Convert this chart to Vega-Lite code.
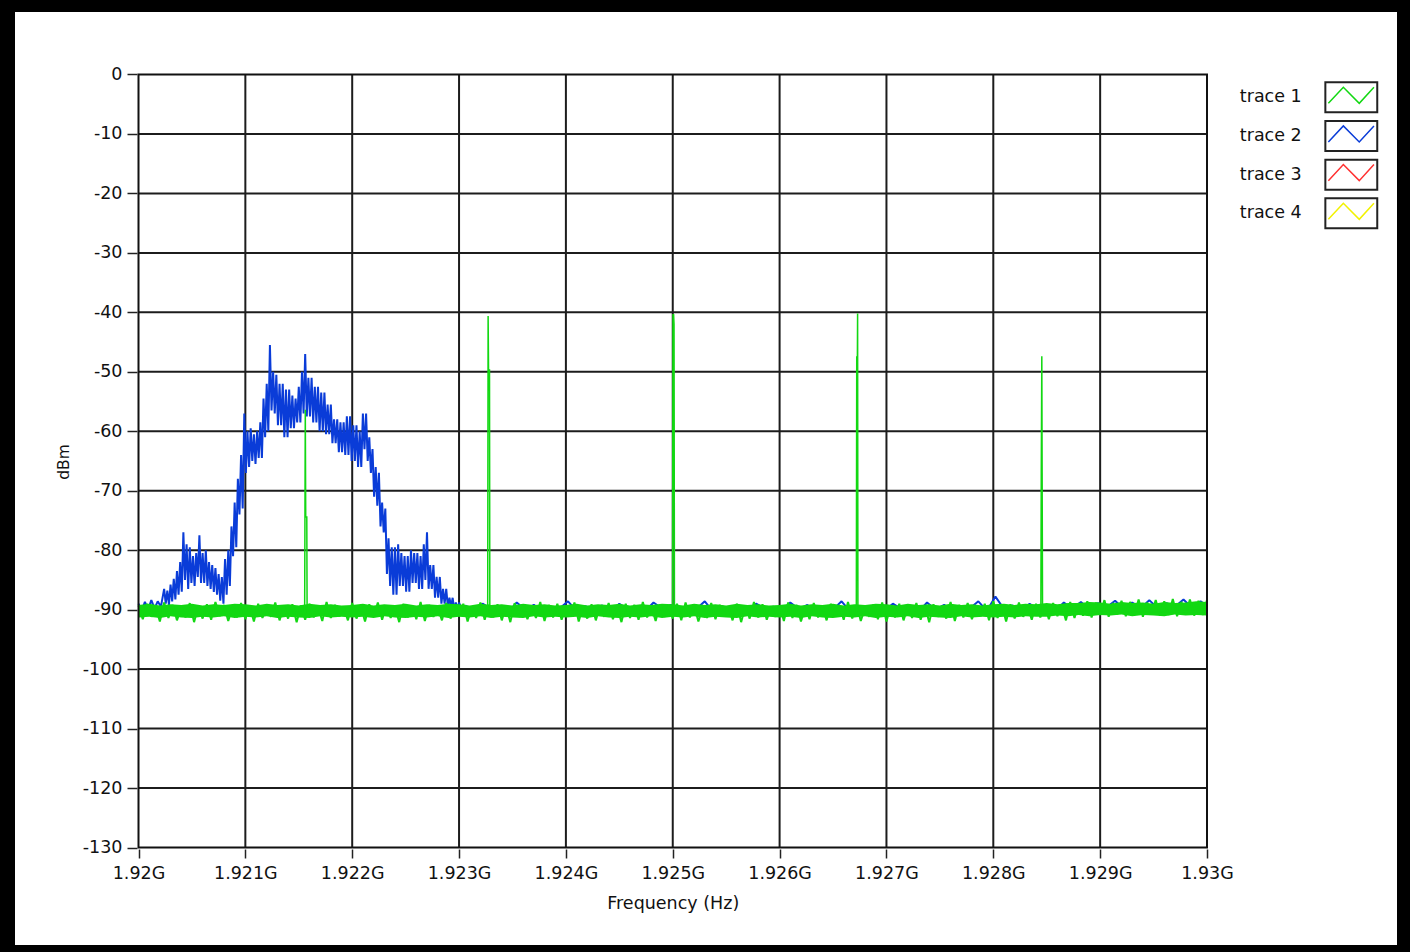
{
"$schema": "https://vega.github.io/schema/vega-lite/v6.json",
"width": 1384,
"height": 935,
"autosize": {"type": "none"},
"padding": {"left": 14, "top": 11, "right": 12, "bottom": 6},
"background": "#000000",
"config": {
  "view": {"fill": "#ffffff", "stroke": "#000000", "strokeWidth": 2},
  "font": "DejaVu Sans",
  "axis": {"labelFont": "DejaVu Sans", "titleFont": "DejaVu Sans", "labelColor": "#111111", "titleColor": "#111111", "titleFontWeight": "normal", "tickColor": "#222222", "tickWidth": 1.5, "domain": false, "grid": false, "labelFontSize": 17.5, "titleFontSize": 17.5},
  "legend": {"labelFont": "DejaVu Sans", "labelFontSize": 17.5, "labelColor": "#111111"}
},
"datasets": {
  "vgrid": [{"f":1921},{"f":1922},{"f":1923},{"f":1924},{"f":1925},{"f":1926},{"f":1927},{"f":1928},{"f":1929}],
  "hgrid": [{"v":-10},{"v":-20},{"v":-30},{"v":-40},{"v":-50},{"v":-60},{"v":-70},{"v":-80},{"v":-90},{"v":-100},{"v":-110},{"v":-120}],
  "gband": [
{"f":1920.0,"hi":-89.2,"lo":-91.3},{"f":1920.1,"hi":-89.0,"lo":-91.2},{"f":1920.2,"hi":-89.3,"lo":-91.4},{"f":1920.3,"hi":-89.1,"lo":-91.1},{"f":1920.4,"hi":-89.2,"lo":-91.3},{"f":1920.5,"hi":-89.0,"lo":-91.4},{"f":1920.6,"hi":-89.3,"lo":-91.2},{"f":1920.7,"hi":-89.1,"lo":-91.3},{"f":1920.8,"hi":-89.2,"lo":-91.1},{"f":1920.9,"hi":-89.0,"lo":-91.4},
{"f":1921.0,"hi":-89.1,"lo":-91.2},{"f":1921.1,"hi":-89.3,"lo":-91.3},{"f":1921.2,"hi":-89.0,"lo":-91.1},{"f":1921.3,"hi":-89.2,"lo":-91.4},{"f":1921.4,"hi":-89.1,"lo":-91.2},{"f":1921.5,"hi":-89.3,"lo":-91.3},{"f":1921.6,"hi":-89.0,"lo":-91.4},{"f":1921.7,"hi":-89.2,"lo":-91.1},{"f":1921.8,"hi":-89.1,"lo":-91.3},{"f":1921.9,"hi":-89.3,"lo":-91.2},
{"f":1922.0,"hi":-89.2,"lo":-91.3},{"f":1922.1,"hi":-89.0,"lo":-91.2},{"f":1922.2,"hi":-89.3,"lo":-91.4},{"f":1922.3,"hi":-89.1,"lo":-91.1},{"f":1922.4,"hi":-89.2,"lo":-91.3},{"f":1922.5,"hi":-89.0,"lo":-91.4},{"f":1922.6,"hi":-89.3,"lo":-91.2},{"f":1922.7,"hi":-89.1,"lo":-91.3},{"f":1922.8,"hi":-89.2,"lo":-91.1},{"f":1922.9,"hi":-89.0,"lo":-91.4},
{"f":1923.0,"hi":-89.1,"lo":-91.2},{"f":1923.1,"hi":-89.3,"lo":-91.3},{"f":1923.2,"hi":-89.0,"lo":-91.1},{"f":1923.3,"hi":-89.2,"lo":-91.4},{"f":1923.4,"hi":-89.1,"lo":-91.2},{"f":1923.5,"hi":-89.3,"lo":-91.3},{"f":1923.6,"hi":-89.0,"lo":-91.4},{"f":1923.7,"hi":-89.2,"lo":-91.1},{"f":1923.8,"hi":-89.1,"lo":-91.3},{"f":1923.9,"hi":-89.3,"lo":-91.2},
{"f":1924.0,"hi":-89.2,"lo":-91.3},{"f":1924.1,"hi":-89.0,"lo":-91.2},{"f":1924.2,"hi":-89.3,"lo":-91.4},{"f":1924.3,"hi":-89.1,"lo":-91.1},{"f":1924.4,"hi":-89.2,"lo":-91.3},{"f":1924.5,"hi":-89.0,"lo":-91.4},{"f":1924.6,"hi":-89.3,"lo":-91.2},{"f":1924.7,"hi":-89.1,"lo":-91.3},{"f":1924.8,"hi":-89.2,"lo":-91.1},{"f":1924.9,"hi":-89.0,"lo":-91.4},
{"f":1925.0,"hi":-89.1,"lo":-91.2},{"f":1925.1,"hi":-89.3,"lo":-91.3},{"f":1925.2,"hi":-89.0,"lo":-91.1},{"f":1925.3,"hi":-89.2,"lo":-91.4},{"f":1925.4,"hi":-89.1,"lo":-91.2},{"f":1925.5,"hi":-89.3,"lo":-91.3},{"f":1925.6,"hi":-89.0,"lo":-91.4},{"f":1925.7,"hi":-89.2,"lo":-91.1},{"f":1925.8,"hi":-89.1,"lo":-91.3},{"f":1925.9,"hi":-89.3,"lo":-91.2},
{"f":1926.0,"hi":-89.2,"lo":-91.3},{"f":1926.1,"hi":-89.0,"lo":-91.2},{"f":1926.2,"hi":-89.3,"lo":-91.4},{"f":1926.3,"hi":-89.1,"lo":-91.1},{"f":1926.4,"hi":-89.2,"lo":-91.3},{"f":1926.5,"hi":-89.0,"lo":-91.4},{"f":1926.6,"hi":-89.3,"lo":-91.2},{"f":1926.7,"hi":-89.1,"lo":-91.3},{"f":1926.8,"hi":-89.2,"lo":-91.1},{"f":1926.9,"hi":-89.0,"lo":-91.4},
{"f":1927.0,"hi":-89.1,"lo":-91.2},{"f":1927.1,"hi":-89.3,"lo":-91.3},{"f":1927.2,"hi":-89.0,"lo":-91.1},{"f":1927.3,"hi":-89.2,"lo":-91.4},{"f":1927.4,"hi":-89.1,"lo":-91.2},{"f":1927.5,"hi":-89.3,"lo":-91.3},{"f":1927.6,"hi":-89.0,"lo":-91.4},{"f":1927.7,"hi":-89.2,"lo":-91.1},{"f":1927.8,"hi":-89.1,"lo":-91.3},{"f":1927.9,"hi":-89.3,"lo":-91.2},
{"f":1928.0,"hi":-89.1,"lo":-91.3},{"f":1928.1,"hi":-89.0,"lo":-91.2},{"f":1928.2,"hi":-89.2,"lo":-91.3},{"f":1928.3,"hi":-89.0,"lo":-91.1},{"f":1928.4,"hi":-89.1,"lo":-91.2},{"f":1928.5,"hi":-88.9,"lo":-91.2},{"f":1928.6,"hi":-89.1,"lo":-91.0},{"f":1928.7,"hi":-88.9,"lo":-91.1},{"f":1928.8,"hi":-88.9,"lo":-90.9},{"f":1928.9,"hi":-88.7,"lo":-91.1},
{"f":1929.0,"hi":-88.8,"lo":-90.9},{"f":1929.1,"hi":-89.0,"lo":-91.0},{"f":1929.2,"hi":-88.7,"lo":-90.8},{"f":1929.3,"hi":-88.9,"lo":-91.1},{"f":1929.4,"hi":-88.8,"lo":-90.9},{"f":1929.5,"hi":-89.0,"lo":-91.0},{"f":1929.6,"hi":-88.7,"lo":-91.1},{"f":1929.7,"hi":-88.9,"lo":-90.8},{"f":1929.8,"hi":-88.8,"lo":-91.0},{"f":1929.9,"hi":-88.6,"lo":-90.9},
{"f":1930.0,"hi":-88.7,"lo":-91.0}
  ],
  "blue": [
{"f":1920.00,"v":-89.0},{"f":1920.03,"v":-90.2},{"f":1920.06,"v":-88.7},{"f":1920.09,"v":-90.0},{"f":1920.12,"v":-88.4},{"f":1920.15,"v":-89.8},{"f":1920.18,"v":-88.6},{"f":1920.21,"v":-89.5},
{"f":1920.240,"v":-86.5},{"f":1920.255,"v":-89.0},{"f":1920.270,"v":-86.8},{"f":1920.285,"v":-89.2},{"f":1920.300,"v":-85.8},{"f":1920.315,"v":-88.6},{"f":1920.330,"v":-84.8},{"f":1920.345,"v":-88.3},
{"f":1920.360,"v":-83.5},{"f":1920.375,"v":-87.5},{"f":1920.390,"v":-82.0},{"f":1920.405,"v":-87.0},{"f":1920.420,"v":-77.0},{"f":1920.435,"v":-85.0},{"f":1920.450,"v":-79.0},{"f":1920.465,"v":-86.5},
{"f":1920.480,"v":-79.5},{"f":1920.495,"v":-85.5},{"f":1920.510,"v":-81.0},{"f":1920.525,"v":-86.0},{"f":1920.540,"v":-80.5},{"f":1920.555,"v":-84.5},{"f":1920.570,"v":-77.5},{"f":1920.585,"v":-85.5},
{"f":1920.600,"v":-80.5},{"f":1920.615,"v":-85.5},{"f":1920.630,"v":-80.0},{"f":1920.645,"v":-86.0},{"f":1920.660,"v":-82.0},{"f":1920.675,"v":-86.5},{"f":1920.690,"v":-82.5},{"f":1920.705,"v":-87.0},
{"f":1920.720,"v":-83.0},{"f":1920.735,"v":-87.5},{"f":1920.750,"v":-84.0},{"f":1920.765,"v":-88.5},{"f":1920.780,"v":-84.5},{"f":1920.795,"v":-89.0},{"f":1920.810,"v":-81.5},{"f":1920.825,"v":-87.5},
{"f":1920.840,"v":-80.0},{"f":1920.855,"v":-86.0},{"f":1920.870,"v":-76.0},{"f":1920.885,"v":-81.0},{"f":1920.900,"v":-72.0},{"f":1920.915,"v":-79.5},{"f":1920.930,"v":-68.0},{"f":1920.945,"v":-74.0},
{"f":1920.960,"v":-64.0},{"f":1920.975,"v":-73.0},{"f":1920.990,"v":-57.0},{"f":1921.005,"v":-67.0},{"f":1921.020,"v":-60.0},{"f":1921.035,"v":-66.0},{"f":1921.050,"v":-59.5},{"f":1921.065,"v":-65.0},
{"f":1921.080,"v":-60.5},{"f":1921.095,"v":-65.5},{"f":1921.110,"v":-60.0},{"f":1921.125,"v":-64.5},{"f":1921.140,"v":-58.5},{"f":1921.155,"v":-64.5},{"f":1921.170,"v":-54.5},{"f":1921.185,"v":-61.0},
{"f":1921.200,"v":-52.0},{"f":1921.215,"v":-60.0},{"f":1921.230,"v":-45.5},{"f":1921.245,"v":-56.5},{"f":1921.260,"v":-50.0},{"f":1921.275,"v":-57.0},{"f":1921.290,"v":-50.5},{"f":1921.305,"v":-59.0},
{"f":1921.320,"v":-52.0},{"f":1921.335,"v":-59.0},{"f":1921.350,"v":-52.0},{"f":1921.365,"v":-61.0},{"f":1921.380,"v":-53.0},{"f":1921.395,"v":-61.0},{"f":1921.410,"v":-53.0},{"f":1921.425,"v":-59.5},
{"f":1921.440,"v":-54.0},{"f":1921.455,"v":-59.5},{"f":1921.470,"v":-54.5},{"f":1921.485,"v":-58.5},{"f":1921.500,"v":-52.5},{"f":1921.515,"v":-58.5},{"f":1921.530,"v":-50.0},{"f":1921.545,"v":-57.0},
{"f":1921.560,"v":-47.0},{"f":1921.575,"v":-57.5},{"f":1921.590,"v":-51.0},{"f":1921.605,"v":-57.5},{"f":1921.620,"v":-51.0},{"f":1921.635,"v":-58.5},{"f":1921.650,"v":-52.5},{"f":1921.665,"v":-58.5},
{"f":1921.680,"v":-52.5},{"f":1921.695,"v":-60.0},{"f":1921.710,"v":-53.5},{"f":1921.725,"v":-60.0},{"f":1921.740,"v":-53.5},{"f":1921.755,"v":-60.5},{"f":1921.770,"v":-55.5},{"f":1921.785,"v":-60.5},
{"f":1921.800,"v":-55.5},{"f":1921.815,"v":-62.0},{"f":1921.830,"v":-58.0},{"f":1921.845,"v":-62.0},{"f":1921.860,"v":-58.0},{"f":1921.875,"v":-63.5},{"f":1921.890,"v":-58.5},{"f":1921.905,"v":-63.5},
{"f":1921.920,"v":-58.5},{"f":1921.935,"v":-64.0},{"f":1921.950,"v":-57.5},{"f":1921.965,"v":-64.0},{"f":1921.980,"v":-57.5},{"f":1921.995,"v":-65.0},{"f":1922.010,"v":-59.0},{"f":1922.025,"v":-65.0},
{"f":1922.040,"v":-59.0},{"f":1922.055,"v":-66.0},{"f":1922.070,"v":-60.0},{"f":1922.085,"v":-66.0},{"f":1922.100,"v":-57.0},{"f":1922.115,"v":-63.0},{"f":1922.130,"v":-57.0},{"f":1922.145,"v":-65.0},
{"f":1922.160,"v":-61.0},{"f":1922.175,"v":-67.0},{"f":1922.190,"v":-63.0},{"f":1922.205,"v":-71.0},{"f":1922.220,"v":-66.0},{"f":1922.235,"v":-72.5},{"f":1922.250,"v":-67.0},{"f":1922.265,"v":-76.0},
{"f":1922.280,"v":-72.0},{"f":1922.295,"v":-77.0},{"f":1922.310,"v":-73.0},{"f":1922.325,"v":-84.0},{"f":1922.340,"v":-78.0},{"f":1922.355,"v":-86.0},{"f":1922.370,"v":-79.5},{"f":1922.385,"v":-87.5},
{"f":1922.400,"v":-79.5},{"f":1922.415,"v":-87.5},{"f":1922.430,"v":-79.0},{"f":1922.445,"v":-86.0},{"f":1922.460,"v":-80.5},{"f":1922.475,"v":-86.0},{"f":1922.490,"v":-81.0},{"f":1922.505,"v":-87.0},
{"f":1922.520,"v":-81.0},{"f":1922.535,"v":-87.0},{"f":1922.550,"v":-80.0},{"f":1922.565,"v":-85.5},{"f":1922.580,"v":-80.5},{"f":1922.595,"v":-85.5},{"f":1922.610,"v":-80.5},{"f":1922.625,"v":-86.5},
{"f":1922.640,"v":-81.0},{"f":1922.655,"v":-86.5},{"f":1922.670,"v":-79.0},{"f":1922.685,"v":-85.0},{"f":1922.700,"v":-77.0},{"f":1922.715,"v":-86.5},{"f":1922.730,"v":-82.5},{"f":1922.745,"v":-86.5},
{"f":1922.760,"v":-82.5},{"f":1922.775,"v":-88.0},{"f":1922.790,"v":-84.5},{"f":1922.805,"v":-88.0},{"f":1922.820,"v":-84.5},{"f":1922.835,"v":-89.0},{"f":1922.850,"v":-86.5},{"f":1922.865,"v":-89.0},
{"f":1922.880,"v":-86.5},{"f":1922.895,"v":-89.5},{"f":1922.910,"v":-88.0},{"f":1922.925,"v":-89.5},{"f":1922.940,"v":-88.0},{"f":1922.955,"v":-90.0},{"f":1922.970,"v":-88.8},{"f":1922.985,"v":-90.0},
{"f":1923.00,"v":-88.8},{"f":1923.03,"v":-90.2},
{"f":1923.06,"v":-89.3},{"f":1923.14,"v":-90.2},{"f":1923.22,"v":-89.0},{"f":1923.30,"v":-89.9},{"f":1923.38,"v":-89.5},{"f":1923.46,"v":-90.4},{"f":1923.54,"v":-88.8},{"f":1923.62,"v":-90.0},{"f":1923.70,"v":-89.2},{"f":1923.78,"v":-90.3},
{"f":1923.86,"v":-89.6},{"f":1923.94,"v":-89.8},{"f":1924.02,"v":-88.6},{"f":1924.10,"v":-90.2},{"f":1924.18,"v":-89.4},{"f":1924.26,"v":-89.9},{"f":1924.34,"v":-89.3},{"f":1924.42,"v":-90.4},{"f":1924.50,"v":-89.0},{"f":1924.58,"v":-90.0},
{"f":1924.66,"v":-89.5},{"f":1924.74,"v":-90.3},{"f":1924.82,"v":-88.8},{"f":1924.90,"v":-89.8},{"f":1924.98,"v":-89.2},{"f":1925.06,"v":-90.2},{"f":1925.14,"v":-89.6},{"f":1925.22,"v":-89.9},{"f":1925.30,"v":-88.6},{"f":1925.38,"v":-90.4},
{"f":1925.46,"v":-89.4},{"f":1925.54,"v":-90.0},{"f":1925.62,"v":-89.3},{"f":1925.70,"v":-90.3},{"f":1925.78,"v":-89.0},{"f":1925.86,"v":-89.8},{"f":1925.94,"v":-89.5},{"f":1926.02,"v":-90.2},{"f":1926.10,"v":-88.8},{"f":1926.18,"v":-89.9},
{"f":1926.26,"v":-89.2},{"f":1926.34,"v":-90.4},{"f":1926.42,"v":-89.6},{"f":1926.50,"v":-90.0},{"f":1926.58,"v":-88.6},{"f":1926.66,"v":-90.3},{"f":1926.74,"v":-89.4},{"f":1926.82,"v":-89.8},{"f":1926.90,"v":-89.3},{"f":1926.98,"v":-90.2},
{"f":1927.06,"v":-89.0},{"f":1927.14,"v":-89.9},{"f":1927.22,"v":-89.5},{"f":1927.30,"v":-90.4},{"f":1927.38,"v":-88.8},{"f":1927.46,"v":-90.0},{"f":1927.54,"v":-89.2},{"f":1927.62,"v":-90.3},{"f":1927.70,"v":-89.6},{"f":1927.78,"v":-89.8},
{"f":1927.86,"v":-88.6},{"f":1927.94,"v":-90.2},{"f":1928.02,"v":-87.8},{"f":1928.10,"v":-89.9},{"f":1928.18,"v":-89.3},{"f":1928.26,"v":-90.4},{"f":1928.34,"v":-89.0},{"f":1928.42,"v":-90.0},{"f":1928.50,"v":-89.5},{"f":1928.58,"v":-90.3},
{"f":1928.66,"v":-88.8},{"f":1928.74,"v":-89.8},{"f":1928.82,"v":-88.7},{"f":1928.90,"v":-90.0},{"f":1928.98,"v":-88.9},{"f":1929.06,"v":-89.6},{"f":1929.14,"v":-88.5},{"f":1929.22,"v":-89.9},{"f":1929.30,"v":-88.8},{"f":1929.38,"v":-89.7},
{"f":1929.46,"v":-88.4},{"f":1929.54,"v":-89.8},{"f":1929.62,"v":-88.9},{"f":1929.70,"v":-89.5},{"f":1929.78,"v":-88.3},{"f":1929.86,"v":-89.7},{"f":1929.94,"v":-88.6},{"f":1930.00,"v":-89.4}
  ],
  "spikes": [
{"f":1920.00,"v":-90.5},
{"f":1921.555,"v":-90.5},{"f":1921.561,"v":-56.4},{"f":1921.565,"v":-74.4},{"f":1921.575,"v":-74.4},{"f":1921.578,"v":-90.5},
{"f":1923.268,"v":-90.5},{"f":1923.272,"v":-40.6},{"f":1923.276,"v":-49.7},{"f":1923.285,"v":-49.7},{"f":1923.288,"v":-90.5},
{"f":1924.998,"v":-90.5},{"f":1925.002,"v":-40.4},{"f":1925.008,"v":-40.4},{"f":1925.012,"v":-42.0},{"f":1925.016,"v":-90.5},
{"f":1926.718,"v":-90.5},{"f":1926.722,"v":-47.5},{"f":1926.728,"v":-47.5},{"f":1926.730,"v":-40.2},{"f":1926.733,"v":-90.5},
{"f":1928.445,"v":-90.5},{"f":1928.449,"v":-67.0},{"f":1928.454,"v":-47.4},{"f":1928.457,"v":-67.0},{"f":1928.461,"v":-90.5},
{"f":1930.00,"v":-90.3}
  ],
  "green": [
{"f":1920.00,"v":-89.3},{"f":1920.04,"v":-91.6},{"f":1920.08,"v":-89.0},{"f":1920.12,"v":-91.2},{"f":1920.16,"v":-89.5},{"f":1920.20,"v":-92.0},{"f":1920.24,"v":-88.8},{"f":1920.28,"v":-91.4},{"f":1920.32,"v":-89.2},{"f":1920.36,"v":-91.8},
{"f":1920.40,"v":-89.6},{"f":1920.44,"v":-91.3},{"f":1920.48,"v":-88.9},{"f":1920.52,"v":-92.1},{"f":1920.56,"v":-89.4},{"f":1920.60,"v":-91.5},{"f":1920.64,"v":-89.1},{"f":1920.68,"v":-91.7},{"f":1920.72,"v":-88.7},{"f":1920.76,"v":-91.1},
{"f":1920.80,"v":-89.2},{"f":1920.84,"v":-91.9},{"f":1920.88,"v":-89.5},{"f":1920.92,"v":-91.3},{"f":1920.96,"v":-88.9},{"f":1921.00,"v":-91.6},{"f":1921.04,"v":-89.3},{"f":1921.08,"v":-92.0},{"f":1921.12,"v":-89.0},{"f":1921.16,"v":-91.4},
{"f":1921.20,"v":-89.6},{"f":1921.24,"v":-91.2},{"f":1921.28,"v":-88.8},{"f":1921.32,"v":-91.8},{"f":1921.36,"v":-89.4},{"f":1921.40,"v":-91.5},{"f":1921.44,"v":-89.1},{"f":1921.48,"v":-92.1},{"f":1921.52,"v":-89.3},{"f":1921.56,"v":-91.7},
{"f":1921.60,"v":-89.0},{"f":1921.64,"v":-91.3},{"f":1921.68,"v":-89.5},{"f":1921.72,"v":-91.9},{"f":1921.76,"v":-88.7},{"f":1921.80,"v":-91.4},{"f":1921.84,"v":-89.2},{"f":1921.88,"v":-91.1},{"f":1921.92,"v":-89.6},{"f":1921.96,"v":-91.8},
{"f":1922.00,"v":-88.9},{"f":1922.04,"v":-91.5},{"f":1922.08,"v":-89.4},{"f":1922.12,"v":-92.0},{"f":1922.16,"v":-89.1},{"f":1922.20,"v":-91.2},{"f":1922.24,"v":-88.8},{"f":1922.28,"v":-91.7},{"f":1922.32,"v":-89.3},{"f":1922.36,"v":-91.4},
{"f":1922.40,"v":-89.5},{"f":1922.44,"v":-92.1},{"f":1922.48,"v":-89.0},{"f":1922.52,"v":-91.3},{"f":1922.56,"v":-89.4},{"f":1922.60,"v":-91.6},{"f":1922.64,"v":-88.7},{"f":1922.68,"v":-91.9},{"f":1922.72,"v":-89.2},{"f":1922.76,"v":-91.2},
{"f":1922.80,"v":-89.6},{"f":1922.84,"v":-91.8},{"f":1922.88,"v":-88.9},{"f":1922.92,"v":-91.5},{"f":1922.96,"v":-89.3},{"f":1923.00,"v":-91.1},{"f":1923.04,"v":-89.0},{"f":1923.08,"v":-92.0},{"f":1923.12,"v":-89.5},{"f":1923.16,"v":-91.4},
{"f":1923.20,"v":-88.8},{"f":1923.24,"v":-91.7},{"f":1923.28,"v":-89.2},{"f":1923.32,"v":-91.3},{"f":1923.36,"v":-89.1},{"f":1923.40,"v":-91.8},{"f":1923.44,"v":-89.4},{"f":1923.48,"v":-92.1},{"f":1923.52,"v":-88.9},{"f":1923.56,"v":-91.2},
{"f":1923.60,"v":-89.3},{"f":1923.64,"v":-91.6},{"f":1923.68,"v":-89.6},{"f":1923.72,"v":-91.4},{"f":1923.76,"v":-88.7},{"f":1923.80,"v":-91.9},{"f":1923.84,"v":-89.2},{"f":1923.88,"v":-91.3},{"f":1923.92,"v":-89.0},{"f":1923.96,"v":-91.7},
{"f":1924.00,"v":-89.5},{"f":1924.04,"v":-91.1},{"f":1924.08,"v":-88.8},{"f":1924.12,"v":-92.0},{"f":1924.16,"v":-89.4},{"f":1924.20,"v":-91.5},{"f":1924.24,"v":-89.1},{"f":1924.28,"v":-91.8},{"f":1924.32,"v":-89.3},{"f":1924.36,"v":-91.2},
{"f":1924.40,"v":-88.9},{"f":1924.44,"v":-91.6},{"f":1924.48,"v":-89.6},{"f":1924.52,"v":-92.1},{"f":1924.56,"v":-89.0},{"f":1924.60,"v":-91.4},{"f":1924.64,"v":-89.2},{"f":1924.68,"v":-91.7},{"f":1924.72,"v":-88.7},{"f":1924.76,"v":-91.3},
{"f":1924.80,"v":-89.5},{"f":1924.84,"v":-91.9},{"f":1924.88,"v":-89.1},{"f":1924.92,"v":-91.2},{"f":1924.96,"v":-89.4},{"f":1925.00,"v":-91.5},{"f":1925.04,"v":-89.0},{"f":1925.08,"v":-91.8},{"f":1925.12,"v":-88.8},{"f":1925.16,"v":-91.3},
{"f":1925.20,"v":-89.3},{"f":1925.24,"v":-92.0},{"f":1925.28,"v":-89.6},{"f":1925.32,"v":-91.4},{"f":1925.36,"v":-88.9},{"f":1925.40,"v":-91.6},{"f":1925.44,"v":-89.2},{"f":1925.48,"v":-91.1},{"f":1925.52,"v":-89.5},{"f":1925.56,"v":-91.8},
{"f":1925.60,"v":-89.0},{"f":1925.64,"v":-92.1},{"f":1925.68,"v":-89.4},{"f":1925.72,"v":-91.5},{"f":1925.76,"v":-88.7},{"f":1925.80,"v":-91.3},{"f":1925.84,"v":-89.1},{"f":1925.88,"v":-91.7},{"f":1925.92,"v":-89.6},{"f":1925.96,"v":-91.2},
{"f":1926.00,"v":-89.3},{"f":1926.04,"v":-91.9},{"f":1926.08,"v":-88.8},{"f":1926.12,"v":-91.4},{"f":1926.16,"v":-89.2},{"f":1926.20,"v":-92.0},{"f":1926.24,"v":-89.5},{"f":1926.28,"v":-91.6},{"f":1926.32,"v":-88.9},{"f":1926.36,"v":-91.3},
{"f":1926.40,"v":-89.4},{"f":1926.44,"v":-91.8},{"f":1926.48,"v":-89.0},{"f":1926.52,"v":-91.1},{"f":1926.56,"v":-89.3},{"f":1926.60,"v":-91.7},{"f":1926.64,"v":-88.7},{"f":1926.68,"v":-91.5},{"f":1926.72,"v":-89.2},{"f":1926.76,"v":-91.9},
{"f":1926.80,"v":-89.6},{"f":1926.84,"v":-91.2},{"f":1926.88,"v":-89.1},{"f":1926.92,"v":-91.6},{"f":1926.96,"v":-88.8},{"f":1927.00,"v":-92.0},{"f":1927.04,"v":-89.4},{"f":1927.08,"v":-91.3},{"f":1927.12,"v":-89.0},{"f":1927.16,"v":-91.8},
{"f":1927.20,"v":-89.5},{"f":1927.24,"v":-91.4},{"f":1927.28,"v":-88.9},{"f":1927.32,"v":-91.7},{"f":1927.36,"v":-89.3},{"f":1927.40,"v":-92.1},{"f":1927.44,"v":-89.1},{"f":1927.48,"v":-91.2},{"f":1927.52,"v":-89.6},{"f":1927.56,"v":-91.5},
{"f":1927.60,"v":-88.7},{"f":1927.64,"v":-91.9},{"f":1927.68,"v":-89.2},{"f":1927.72,"v":-91.3},{"f":1927.76,"v":-88.9},{"f":1927.80,"v":-91.6},{"f":1927.84,"v":-89.4},{"f":1927.88,"v":-91.1},{"f":1927.92,"v":-89.0},{"f":1927.96,"v":-91.8},
{"f":1928.00,"v":-88.6},{"f":1928.04,"v":-91.4},{"f":1928.08,"v":-89.3},{"f":1928.12,"v":-92.0},{"f":1928.16,"v":-89.1},{"f":1928.20,"v":-91.5},{"f":1928.24,"v":-88.8},{"f":1928.28,"v":-91.2},{"f":1928.32,"v":-89.4},{"f":1928.36,"v":-91.7},
{"f":1928.40,"v":-89.0},{"f":1928.44,"v":-91.3},{"f":1928.48,"v":-89.2},{"f":1928.52,"v":-91.6},{"f":1928.56,"v":-88.9},{"f":1928.60,"v":-91.1},{"f":1928.64,"v":-89.3},{"f":1928.68,"v":-91.8},{"f":1928.72,"v":-88.7},{"f":1928.76,"v":-91.4},
{"f":1928.80,"v":-88.9},{"f":1928.84,"v":-91.0},{"f":1928.88,"v":-88.6},{"f":1928.92,"v":-91.3},{"f":1928.96,"v":-88.8},{"f":1929.00,"v":-90.9},{"f":1929.04,"v":-88.4},{"f":1929.08,"v":-91.2},{"f":1929.12,"v":-88.9},{"f":1929.16,"v":-90.8},
{"f":1929.20,"v":-88.5},{"f":1929.24,"v":-91.1},{"f":1929.28,"v":-88.7},{"f":1929.32,"v":-90.9},{"f":1929.36,"v":-88.3},{"f":1929.40,"v":-91.2},{"f":1929.44,"v":-88.8},{"f":1929.48,"v":-90.7},{"f":1929.52,"v":-88.4},{"f":1929.56,"v":-91.0},
{"f":1929.60,"v":-88.6},{"f":1929.64,"v":-90.9},{"f":1929.68,"v":-88.2},{"f":1929.72,"v":-91.1},{"f":1929.76,"v":-88.7},{"f":1929.80,"v":-90.8},{"f":1929.84,"v":-88.3},{"f":1929.88,"v":-91.0},{"f":1929.92,"v":-88.5},{"f":1929.96,"v":-90.9},
{"f":1930.00,"v":-88.4}
  ]
},
"layer": [
  {
    "data": {"name": "vgrid"},
    "mark": {"type": "rule", "stroke": "#1c1c1c", "strokeWidth": 2},
    "encoding": {
      "x": {"field": "f", "type": "quantitative"},
      "y": {"datum": 0, "type": "quantitative"},
      "y2": {"datum": -130}
    }
  },
  {
    "data": {"name": "hgrid"},
    "mark": {"type": "rule", "stroke": "#1c1c1c", "strokeWidth": 2},
    "encoding": {
      "y": {"field": "v", "type": "quantitative"},
      "x": {"datum": 1920, "type": "quantitative"},
      "x2": {"datum": 1930}
    }
  },
  {
    "data": {"name": "blue"},
    "mark": {"type": "line", "strokeWidth": 2, "strokeJoin": "bevel"},
    "encoding": {
      "x": {"field": "f", "type": "quantitative",
        "scale": {"domain": [1918.83481, 1931.78755], "nice": false, "zero": false},
        "axis": {"orient": "bottom", "offset": -97, "zindex": 2, "values": [1920,1921,1922,1923,1924,1925,1926,1927,1928,1929,1930], "tickSize": 9, "labelPadding": 6, "labelFontSize": 17.5, "labelExpr": "format(datum.value/1000,'.4~f')+'G'", "title": "Frequency (Hz)", "titleFontSize": 17.5, "titleX": 658.75, "titleY": 59, "titleBaseline": "alphabetic", "titleAlign": "center", "labelFlush": false, "labelOverlap": false}},
      "y": {"field": "v", "type": "quantitative",
        "scale": {"domain": [-146.565, 10.679], "nice": false, "zero": false},
        "axis": {"orient": "left", "offset": -123, "zindex": 2, "values": [0,-10,-20,-30,-40,-50,-60,-70,-80,-90,-100,-110,-120,-130], "tickSize": 10, "labelPadding": 5, "labelFontSize": 17.5, "labelExpr": "datum.value+''", "title": "dBm", "titleFontSize": 15.5, "titleAngle": -90, "titleX": -73.5, "titleY": 450.5, "titleBaseline": "middle", "titleAlign": "center", "labelFlush": false, "labelOverlap": false}},
      "color": {"datum": "trace 2", "type": "nominal"}
    }
  },
  {
    "data": {"name": "gband"},
    "mark": {"type": "area", "color": "#12D812", "opacity": 1},
    "encoding": {
      "x": {"field": "f", "type": "quantitative"},
      "y": {"field": "hi", "type": "quantitative"},
      "y2": {"field": "lo"}
    }
  },
  {
    "data": {"name": "green"},
    "mark": {"type": "line", "strokeWidth": 2, "strokeJoin": "bevel"},
    "encoding": {
      "x": {"field": "f", "type": "quantitative"},
      "y": {"field": "v", "type": "quantitative"},
      "color": {"datum": "trace 1", "type": "nominal",
        "scale": {"domain": ["trace 1", "trace 2", "trace 3", "trace 4"], "range": ["#12D812", "#0A3CD8", "#FF3030", "#F2F200"]},
        "legend": {"title": null, "orient": "none", "legendX": 1321.3, "legendY": 70.3, "padding": 0, "symbolType": "M-1.53,0.4L-0.53,-0.67L0.53,0.4L1.51,-0.67", "symbolSize": 900, "symbolStrokeWidth": 1.5, "symbolFillColor": "transparent", "labelAlign": "right", "labelOffset": -65.6, "labelFontSize": 17.5, "labelLimit": 200, "rowPadding": 13.67}}
    }
  },
  {
    "data": {"name": "spikes"},
    "mark": {"type": "line", "strokeWidth": 1.5},
    "encoding": {
      "x": {"field": "f", "type": "quantitative"},
      "y": {"field": "v", "type": "quantitative"},
      "color": {"datum": "trace 1", "type": "nominal"}
    }
  },
  {
    "data": {"values": [{}]},
    "mark": {"type": "rect", "filled": false, "stroke": "#111111", "strokeWidth": 2},
    "encoding": {
      "x": {"datum": 1920, "type": "quantitative"},
      "x2": {"datum": 1930},
      "y": {"datum": 0, "type": "quantitative"},
      "y2": {"datum": -130}
    }
  },
  {
    "data": {"values": [{}]},
    "mark": {"type": "point", "opacity": 0, "size": 1},
    "encoding": {
      "x": {"datum": 1925, "type": "quantitative"},
      "y": {"datum": -60, "type": "quantitative"},
      "shape": {"datum": "a", "type": "nominal",
        "scale": {"domain": ["a", "b", "c", "d"], "range": ["M-1.73,-1L1.73,-1L1.73,1L-1.73,1Z", "M-1.73,-1L1.73,-1L1.73,1L-1.73,1Z", "M-1.73,-1L1.73,-1L1.73,1L-1.73,1Z", "M-1.73,-1L1.73,-1L1.73,1L-1.73,1Z"]},
        "legend": {"title": null, "orient": "none", "legendX": 1321.3, "legendY": 70.3, "padding": 0, "symbolSize": 900, "symbolStrokeWidth": 2, "symbolStrokeColor": "#222222", "symbolFillColor": "transparent", "symbolOpacity": 1, "labelExpr": "''", "labelFontSize": 17.5, "rowPadding": 0.67}}
    }
  }
]
}
